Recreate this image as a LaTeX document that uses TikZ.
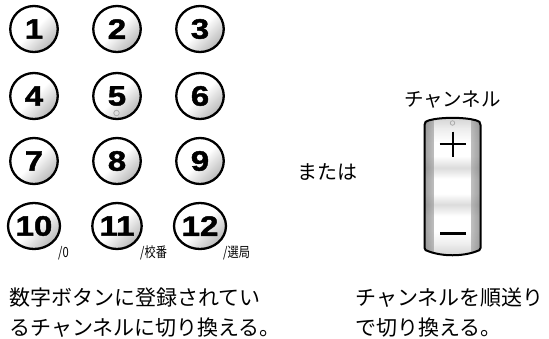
\documentclass[tikz,border=0pt]{standalone}
\usepackage{fontspec}
\setmainfont{Noto Sans CJK JP}
\newfontfamily\digitfont[FakeStretch=1.18,FakeBold=1.6]{Liberation Sans Bold}
\newfontfamily\condfont[FakeStretch=0.8]{Noto Sans CJK JP}
\usetikzlibrary{shapes.geometric}
\pgfdeclareverticalshading{rocker}{100bp}{color(0bp)=(gray!35); color(25bp)=(gray!35); color(30bp)=(gray!12); color(34bp)=(white); color(39.5bp)=(white); color(43.6bp)=(gray!28); color(47.5bp)=(white); color(52.9bp)=(white); color(56.8bp)=(gray!28); color(61bp)=(white); color(66bp)=(white); color(71bp)=(gray!15); color(75bp)=(gray!35); color(100bp)=(gray!35)}
\begin{document}
\begin{tikzpicture}[x=1pt,y=-1pt,
  btn/.style={ellipse, draw, line width=2.3pt, minimum width=47.5pt, minimum height=46pt, inner sep=0pt,
    top color=white, bottom color=gray!55, middle color=white, shading angle=45,
    font=\digitfont\fontsize{28}{28}\selectfont},
  sublabel/.style={anchor=west, inner sep=0pt, font=\condfont\fontsize{14}{14}\selectfont},
  jtext/.style={anchor=base west, inner sep=0pt, font=\fontsize{21}{21}\selectfont},
  dot/.style={circle, inner sep=0pt, minimum size=5.5pt, fill=gray!25, draw=gray!70, line width=0.7pt}]
\useasboundingbox (0,0) rectangle (549,338);
% keypad
\node[btn] (b1) at (34,29) {1};
\node[btn] (b2) at (117,29) {2};
\node[btn] (b3) at (200,29) {3};
\node[btn] (b4) at (34,96) {4};
\node[btn] (b5) at (117,96) {5};
\node[btn] (b6) at (200,96) {6};
\node[btn] (b7) at (34,161) {7};
\node[btn] (b8) at (117,161) {8};
\node[btn] (b9) at (200,161) {9};
\node[btn] (b10) at (34,226) {10};
\node[btn] (b11) at (117,226) {11};
\node[btn] (b12) at (200,226) {12};
\node[dot] (d5) at (116.5,113) {};
\node[sublabel] (s10) at (58,253) {/0};
\node[sublabel] (s11) at (140,253) {/校番};
\node[sublabel] (s12) at (223,253) {/選局};
% or
\node[inner sep=0pt, font=\fontsize{20}{20}\selectfont] (or) at (327,172) {または};
% channel rocker
\node[inner sep=0pt, font=\fontsize{19.5}{19.5}\selectfont] (ch) at (452.5,100) {チャンネル};
\def\rockerpath{(424.5,248) -- (424.5,125) .. controls (424.5,122) and (426,121) .. (429,120.3)
  .. controls (441,117) and (464,117) .. (476,120.3) .. controls (479,121) and (480.5,122) .. (480.5,125)
  -- (480.5,248) .. controls (480.5,250) and (479,250.5) .. (476,251.5)
  .. controls (462,256.5) and (443,256.5) .. (429,251.5) .. controls (426,250.5) and (424.5,250) .. (424.5,248) -- cycle}
\shade[shading=rocker] \rockerpath;
\begin{scope}
  \clip \rockerpath;
  \fill[left color=gray!60, right color=white, fill opacity=0.45] (424,110) rectangle (434,260);
  \fill[left color=white, right color=gray!60, fill opacity=0.45] (471,110) rectangle (481,260);
\end{scope}
\draw[line width=2pt] \rockerpath;
\node[dot, minimum size=4.5pt] (sd) at (452.5,123) {};
\draw[line width=2pt] (439.5,144) -- (465.5,144) (452.5,131.5) -- (452.5,156.5);
\draw[line width=3pt] (440,233) -- (466,233);
% captions
\node[jtext] (l1) at (9,305) {数字ボタンに登録されてい};
\node[jtext] (l2) at (9,335) {るチャンネルに切り換える。};
\node[jtext] (r1) at (355,305) {チャンネルを順送り};
\node[jtext] (r2) at (355,335) {で切り換える。};
\end{tikzpicture}
\end{document}
